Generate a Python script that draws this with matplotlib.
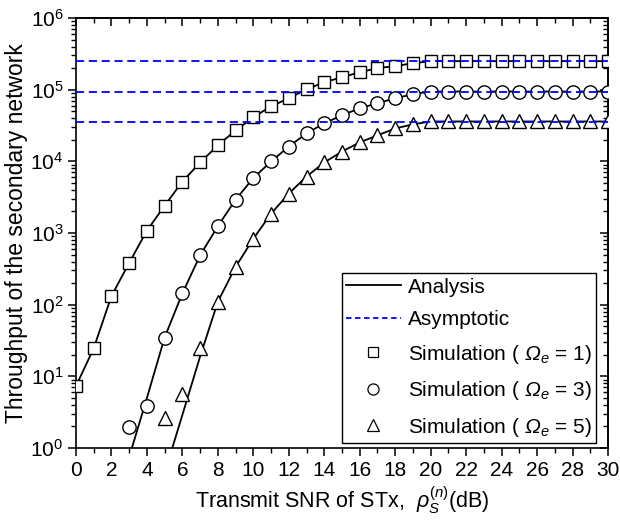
import matplotlib
matplotlib.use("Agg")
import matplotlib.pyplot as plt
from matplotlib.lines import Line2D
from matplotlib.ticker import MultipleLocator, LogLocator, NullFormatter

plt.rcParams['font.family'] = ['Liberation Sans', 'DejaVu Sans']
plt.rcParams['mathtext.fontset'] = 'custom'
plt.rcParams['mathtext.rm'] = 'Liberation Sans'
plt.rcParams['mathtext.it'] = 'Liberation Sans:italic'
plt.rcParams['mathtext.sf'] = 'Liberation Sans:italic'

# Data (x in dB)
snr_sq = list(range(0, 31))
snr_ci = list(range(3, 31))
snr_tr = list(range(5, 31))

sim_sq = [7.3, 24.7, 132, 384, 1080, 2410, 5220, 9640, 16700, 27000, 41100,
          58600, 75900, 101000, 127000, 149000, 175000, 200000, 213000, 234000,
          250000, 250000, 250000, 250000, 250000, 250000, 250000, 250000,
          250000, 250000, 250000]
sim_ci = [1.94, 3.9, 34, 144, 489, 1245, 2920, 5850, 9950, 16100, 24500,
          33900, 43900, 55000, 64600, 75900, 86300,
          94200, 94200, 94200, 94200, 94200, 94200, 94200, 94200, 94200,
          94200, 94200]
sim_tr = [2.6, 5.6, 24.7, 109, 337, 832, 1860, 3550, 6140, 9640, 13700,
          18400, 23000, 28800, 32800,
          36000, 36000, 36000, 36000, 36000, 36000, 36000, 36000, 36000,
          36000, 36000]

# analysis curves differ from simulation only at low SNR
ana_sq = sim_sq
ana_ci = [0.75, 5.0, 35] + sim_ci[3:]
ana_tr = [0.45, 2.9, 19, 110] + sim_tr[4:]

asym = [2.5e5, 9.4e4, 3.5e4]
y_ticks = [1e0, 1e1, 1e2, 1e3, 1e4, 1e5, 1e6]

fig = plt.figure(figsize=(6.2, 5.21), dpi=100)
ax = fig.add_axes([76/620, 1-448/521, 532/620, 430/521])

for xs, ys in [(snr_sq, ana_sq), (snr_ci, ana_ci), (snr_tr, ana_tr)]:
    ax.plot(xs, ys, color='k', lw=1.3, zorder=2)

mk = dict(ls='none', mfc='white', mec='k', mew=1.0, zorder=3)
ax.plot(snr_sq, sim_sq, marker='s', ms=8.8, **mk)
ax.plot(snr_ci, sim_ci, marker='o', ms=9.6, **mk)
ax.plot(snr_tr, sim_tr, marker='^', ms=10.5, **mk)

for a in asym:
    ax.axhline(a, color='#0000ff', lw=1.3, dashes=(4.5, 2.6), zorder=4)

ax.set_yscale('log')
ax.set_xlim(0, 30)
ax.set_ylim(1, 1e6)
ax.xaxis.set_major_locator(MultipleLocator(2))
ax.xaxis.set_minor_locator(MultipleLocator(1))
ax.set_yticks(y_ticks)
ax.yaxis.set_minor_locator(LogLocator(base=10, subs=range(2, 10), numticks=20))
ax.yaxis.set_minor_formatter(NullFormatter())
ax.tick_params(which='major', direction='out', length=6, width=1.1,
               labelsize=15, pad=3)
ax.tick_params(which='minor', direction='out', length=3.5, width=1.0)
for s in ax.spines.values():
    s.set_linewidth(1.2)

# mirrored ticks pointing inward on top and right
top = ax.secondary_xaxis('top')
top.xaxis.set_major_locator(MultipleLocator(2))
top.xaxis.set_minor_locator(MultipleLocator(1))
top.xaxis.set_major_formatter(NullFormatter())
top.tick_params(which='major', direction='in', length=6, width=1.1, labeltop=False)
top.tick_params(which='minor', direction='in', length=3.5, width=1.0)
right = ax.secondary_yaxis('right')
right.set_yticks(y_ticks)
right.yaxis.set_minor_locator(LogLocator(base=10, subs=range(2, 10), numticks=20))
right.yaxis.set_major_formatter(NullFormatter())
right.yaxis.set_minor_formatter(NullFormatter())
right.tick_params(which='major', direction='in', length=6, width=1.1, labelright=False)
right.tick_params(which='minor', direction='in', length=3.5, width=1.0, labelright=False)
for s in list(top.spines.values()) + list(right.spines.values()):
    s.set_linewidth(1.2)

ax.set_xlabel(r'Transmit SNR of STx,  $\rho_S^{(n)}$(dB)', fontsize=15.5, labelpad=3)
ax.set_ylabel('Throughput of the secondary network', fontsize=16.5, labelpad=2)

handles = [
    Line2D([], [], color='k', lw=1.3),
    Line2D([], [], color='#0000ff', lw=1.3, dashes=(3, 2)),
    Line2D([], [], ls='none', marker='s', ms=7.5, mfc='white', mec='k', mew=0.9),
    Line2D([], [], ls='none', marker='o', ms=8, mfc='white', mec='k', mew=0.9),
    Line2D([], [], ls='none', marker='^', ms=8.5, mfc='white', mec='k', mew=0.9),
]
labels = ['Analysis', 'Asymptotic',
          r'Simulation ( $\mathsf{\Omega_e}$ = 1)',
          r'Simulation ( $\mathsf{\Omega_e}$ = 3)',
          r'Simulation ( $\mathsf{\Omega_e}$ = 5)']
leg = ax.legend(handles, labels, loc='lower right', bbox_to_anchor=(0.977, 0.012),
                borderaxespad=0, fontsize=15, frameon=True, fancybox=False,
                edgecolor='k', framealpha=1, handlelength=2.6, handletextpad=0.35,
                labelspacing=0.65, borderpad=0.2)
leg.get_frame().set_linewidth(1.0)
leg.set_zorder(5)

fig.savefig('out.png', dpi=100)
